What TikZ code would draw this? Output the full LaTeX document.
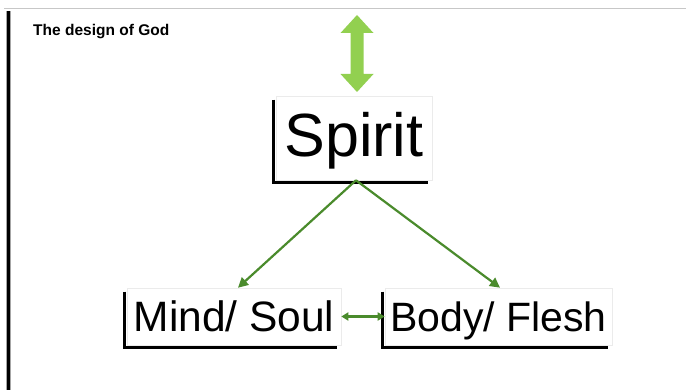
\documentclass[tikz,border=0pt]{standalone}
\usepackage{fontspec}
\setmainfont{Liberation Sans}
\usetikzlibrary{arrows.meta}
\definecolor{lightgreen}{HTML}{92D050}
\definecolor{darkgreen}{HTML}{4A8B2C}
\begin{document}
\begin{tikzpicture}[x=1pt,y=-1pt,
  card/.style={draw=black!8, line width=0.6pt, fill=white, inner sep=0pt},
  shadowline/.style={draw=black, line width=2.6pt},
  conn/.style={draw=darkgreen, line width=2.2pt, -{Triangle[length=10pt,width=10pt]}},
  biconn/.style={draw=darkgreen, line width=2.2pt, {Triangle[length=7pt,width=8pt]}-{Triangle[length=7pt,width=8pt]}}]
\useasboundingbox (0,0) rectangle (686,390);
\fill[white] (0,0) rectangle (686,390);
% slide frame
\draw[black!22, line width=0.8pt] (4,8) -- (686,8);
\fill[black!35] (5.5,11) rectangle (10.5,390);
\draw[black, line width=3pt] (8,11) -- (8,390);
% title
\node[anchor=base west, inner sep=0pt, font=\bfseries\fontsize{15.5}{17}\selectfont] (title) at (33,36) {The design of God};
% big double arrow
\fill[lightgreen] (357,15) -- (373.5,33) -- (363.5,33) -- (363.5,74) -- (373.5,74) -- (357,92)
  -- (340.5,74) -- (350.5,74) -- (350.5,33) -- (340.5,33) -- cycle;
% boxes
\node[card, minimum width=156pt, minimum height=84pt, text height=38pt, text depth=0pt,
      font=\fontsize{61}{64}\selectfont] (spirit) at (354,138) {Spirit};
\node[card, minimum width=214pt, minimum height=57pt, text height=31pt, text depth=0pt,
      font=\fontsize{42.5}{46}\selectfont] (mind) at (234,316.5) {Mind/ Soul};
\node[card, minimum width=227pt, minimum height=57pt, text height=31pt, text depth=0pt,
      font=\fontsize{41}{45}\selectfont] (body) at (498.5,316.5) {Body/ Flesh};
% L-shaped shadows
\foreach \n in {spirit,mind,body}
  \draw[shadowline] ([shift={(-2,4)}]\n.north west) |- ([shift={(-4,2)}]\n.south east);
% connectors
\draw[conn] ([xshift=2pt]spirit.south) -- ([xshift=4pt]mind.north);
\draw[conn] ([xshift=2pt]spirit.south) -- ([xshift=1.5pt]body.north);
\draw[biconn] (mind.east) -- (body.west);
\end{tikzpicture}
\end{document}
